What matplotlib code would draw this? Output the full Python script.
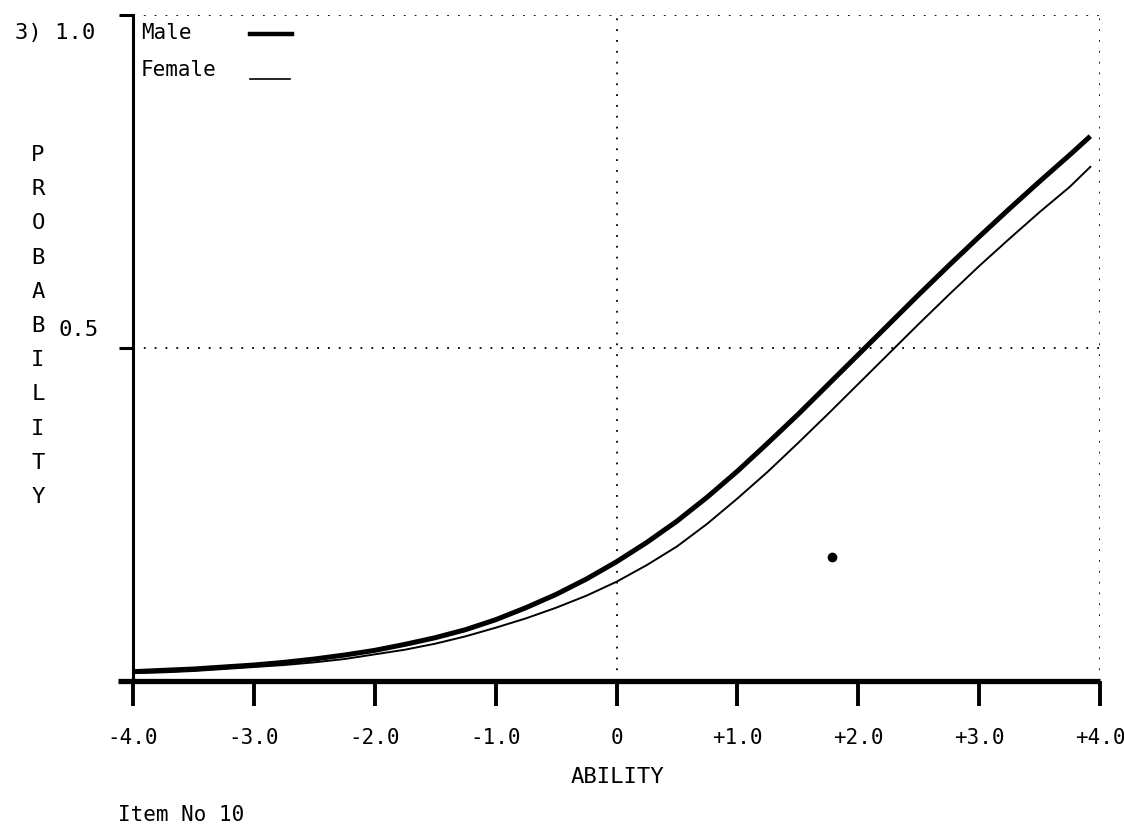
import matplotlib
matplotlib.use("Agg")
import matplotlib.pyplot as plt

# item characteristic curves, item 10, split by group
ability = [-4.00, -3.75, -3.50, -3.25, -3.00, -2.75, -2.50, -2.25, -2.00,
           -1.75, -1.50, -1.25, -1.00, -0.75, -0.50, -0.25, 0.00,
           0.25, 0.50, 0.75, 1.00, 1.25, 1.50, 1.75, 2.00,
           2.25, 2.50, 2.75, 3.00, 3.25, 3.50, 3.75, 3.92]
p_male = [0.014, 0.016, 0.018, 0.021, 0.024, 0.028, 0.033, 0.039, 0.046,
          0.055, 0.065, 0.077, 0.092, 0.110, 0.130, 0.153, 0.179,
          0.208, 0.240, 0.276, 0.315, 0.357, 0.400, 0.445, 0.490,
          0.535, 0.580, 0.624, 0.667, 0.709, 0.750, 0.790, 0.818]
p_female = [0.012, 0.013, 0.015, 0.018, 0.021, 0.024, 0.028, 0.033, 0.040,
            0.047, 0.056, 0.067, 0.080, 0.094, 0.110, 0.128, 0.149,
            0.174, 0.202, 0.236, 0.274, 0.314, 0.357, 0.401, 0.446,
            0.491, 0.536, 0.580, 0.623, 0.664, 0.704, 0.742, 0.772]

x_ticks = [-4, -3, -2, -1, 0, 1, 2, 3, 4]
x_tick_labels = ['-4.0', '-3.0', '-2.0', '-1.0', '0', '+1.0', '+2.0', '+3.0', '+4.0']
y_letters = list("PROBABILITY")
stray_mark = (1.78, 0.186)

FONT = 'DejaVu Sans Mono'
W, H = 1124, 838


def px(x, y):
    # pixel position -> figure fraction
    return x / W, 1 - y / H


fig = plt.figure(figsize=(W / 100, H / 100), dpi=100)
fig.patch.set_facecolor('white')
ax = fig.add_axes([133 / W, 1 - 681 / H, (1100 - 133) / W, (681 - 15) / H])
ax.set_xlim(-4, 4)
ax.set_ylim(0, 1)

ax.plot(ability, p_male, color='black', lw=3.6, solid_capstyle='butt')
ax.plot(ability, p_female, color='black', lw=1.4)
ax.plot(*stray_mark, 'o', color='black', ms=6)

dots = dict(color='black', lw=1.3, ls=(0, (1, 5)))
ax.axvline(0, **dots)
ax.axhline(0.5, **dots)
ax.axhline(1.0, **dots)
ax.axvline(4, **dots)

for s in ['top', 'right']:
    ax.spines[s].set_visible(False)
ax.spines['left'].set_linewidth(2.2)
ax.spines['bottom'].set_visible(False)
# heavy baseline reaching a little left of the y axis
ax.plot([-4.12, 4.0], [0, 0], color='black', lw=3.8, clip_on=False,
        solid_capstyle='butt')

ax.set_xticks(x_ticks)
ax.set_xticklabels(x_tick_labels, family=FONT, fontsize=15)
ax.tick_params(axis='x', direction='out', length=18, width=2.8, pad=16)
ax.set_yticks([0.5, 1.0])
ax.set_yticklabels([])
ax.tick_params(axis='y', direction='out', length=10, width=2.2)

# y axis wording, one letter per row
for i, ch in enumerate(y_letters):
    fig.text(*px(38, 155 + i * 34.2), ch, family=FONT, fontsize=16,
             ha='center', va='center')
fig.text(*px(15, 33), '3) 1.0', family=FONT, fontsize=16, ha='left', va='center')
fig.text(*px(58, 330), '0.5', family=FONT, fontsize=16, ha='left', va='center')

fig.text(*px(617, 777), 'ABILITY', family=FONT, fontsize=16, ha='center', va='center')
fig.text(*px(118, 815), 'Item No 10', family=FONT, fontsize=15, ha='left', va='center')

# legend drawn by hand
fig.text(*px(141, 33), 'Male', family=FONT, fontsize=15, ha='left', va='center')
fig.text(*px(141, 70), 'Female', family=FONT, fontsize=15, ha='left', va='center')
fig.add_artist(plt.Line2D([250 / W, 292 / W], [1 - 34 / H] * 2, color='black', lw=3.2))
fig.add_artist(plt.Line2D([250 / W, 290 / W], [1 - 79 / H] * 2, color='black', lw=1.2))

fig.savefig('out.png', dpi=100, facecolor='white')
